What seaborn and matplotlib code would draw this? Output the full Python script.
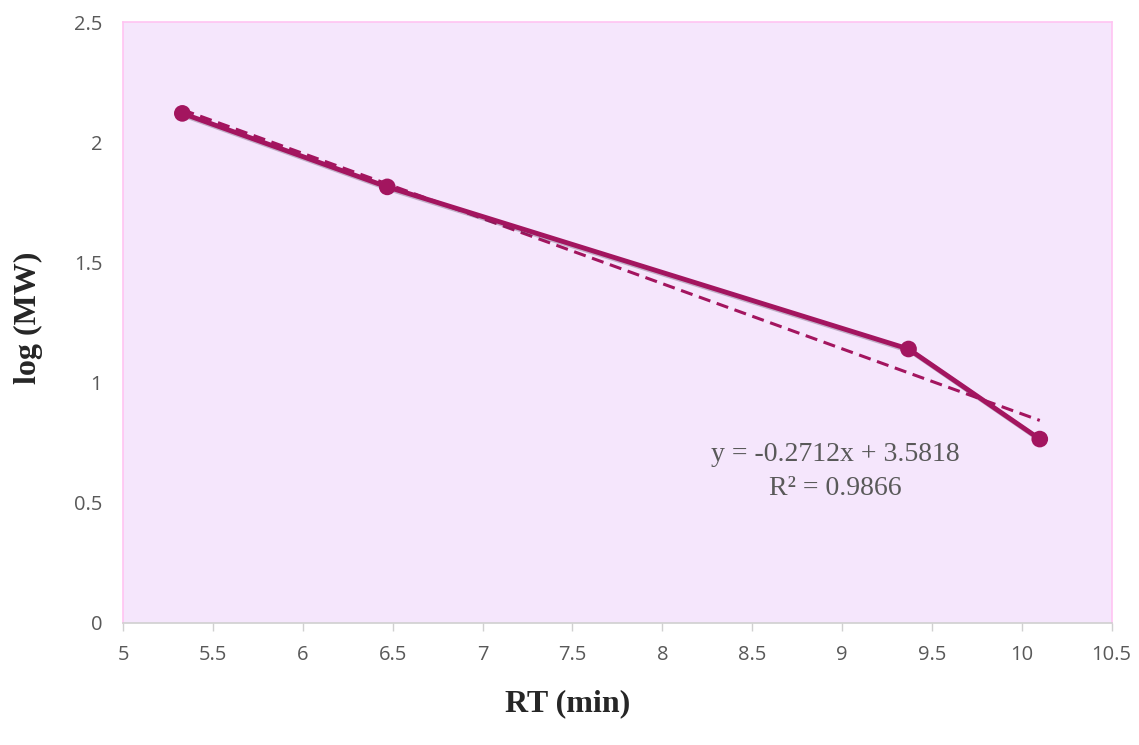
import matplotlib.pyplot as plt
import matplotlib.patheffects as pe
import numpy as np
import pandas as pd
import seaborn as sns

# %% data
rt_min = [5.33, 6.47, 9.37, 10.1]
log_mw = [2.121, 1.815, 1.14, 0.765]
slope, intercept, r2 = -0.2712, 3.5818, 0.9866
x_ticks = [5, 5.5, 6, 6.5, 7, 7.5, 8, 8.5, 9, 9.5, 10, 10.5]
y_ticks = [0, 0.5, 1, 1.5, 2, 2.5]

data = pd.DataFrame({"RT": rt_min, "logMW": log_mw})

line_color = "#A3155F"
tick_color = "#595959"

sns.set_style("white")
plt.rcParams["font.family"] = ["Open Sans", "DejaVu Sans"]

fig = plt.figure(figsize=(11.39, 7.45), dpi=100)
ax = fig.add_axes([0.108, 0.164, 0.868, 0.806])
ax.set_facecolor("#F5E6FC")

shadow = [pe.SimpleLineShadow(offset=(1.5, -1.5), alpha=0.3, shadow_color="#4a3050"),
          pe.Normal()]

# trend line from the fitted equation
trend_x = np.array([min(rt_min), max(rt_min)])
ax.plot(trend_x, slope * trend_x + intercept, color=line_color, lw=2.2, ls=(0, (4, 2.2)))

sns.lineplot(data=data, x="RT", y="logMW", ax=ax, color=line_color, lw=3.5,
             marker="o", markersize=12, markeredgewidth=0, sort=False,
             path_effects=shadow)

ax.text(8.96, 0.63, f"y = {slope}x + {intercept}\nR² = {r2}", ha="center", va="center",
        fontsize=20, color=tick_color, family="Liberation Serif", linespacing=1.5)

ax.set_xlim(5, 10.5)
ax.set_ylim(0, 2.5)
ax.set_xticks(x_ticks)
ax.set_xticklabels([f"{t:g}" for t in x_ticks])
ax.set_yticks(y_ticks)
ax.set_yticklabels([f"{t:g}" for t in y_ticks])
ax.tick_params(axis="x", direction="out", length=6, color="#D0D0D0", width=1,
               labelsize=14.5, labelcolor=tick_color, pad=10, bottom=True)
ax.tick_params(axis="y", length=0, labelsize=14.5, labelcolor=tick_color, pad=15)

for side in ["left", "right", "top"]:
    ax.spines[side].set_color("#FFC4F2")
    ax.spines[side].set_linewidth(1.2)
ax.spines["bottom"].set_color("#D0D0D0")
ax.spines["bottom"].set_linewidth(1.2)

ax.set_xlabel("")
ax.set_ylabel("")
fig.text(0.498, 0.056, "RT (min)", ha="center", va="center", fontsize=23,
         fontweight="bold", family="Liberation Serif")
fig.text(0.025, 0.574, "log (MW)", ha="center", va="center", rotation=90, fontsize=23,
         fontweight="bold", family="Liberation Serif")

plt.savefig("out.png", dpi=100)
